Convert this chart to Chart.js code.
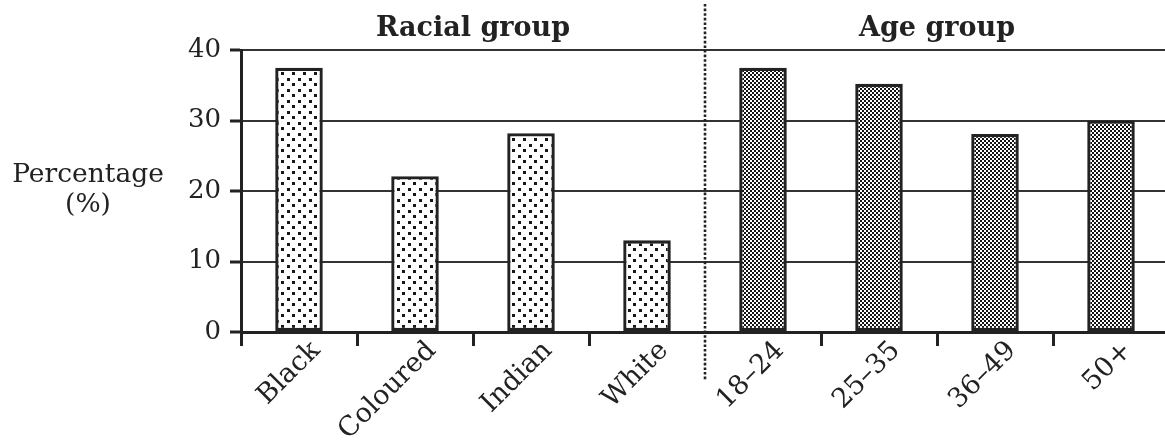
<!DOCTYPE html>
<html>
<head>
<meta charset="utf-8">
<script src="https://cdn.jsdelivr.net/npm/chart.js@4"></script>
<style>
html,body{margin:0;padding:0;background:#fff;overflow:hidden;}
#wrap{position:relative;width:1169px;height:441px;}
</style>
</head>
<body>
<div id="wrap"><canvas id="c"></canvas></div>
<script>
// ---- data ----
const categories = ['Black', 'Coloured', 'Indian', 'White', '18–24', '25–35', '36–49', '50+'];
const values = [37.5, 22.1, 28.2, 13.0, 37.5, 35.2, 28.1, 30.0];
const groupOf = [0, 0, 0, 0, 1, 1, 1, 1];
const groupTitles = ['Racial group', 'Age group'];
const yTicks = [0, 10, 20, 30, 40];
const yTitle = ['Percentage', '(%)'];

const FONT = '"DejaVu Serif", "Liberation Serif", serif';
const INK = '#222';

function dotPattern() {
  const c = document.createElement('canvas');
  c.width = 11; c.height = 11;
  const g = c.getContext('2d');
  g.fillStyle = '#fff'; g.fillRect(0, 0, 11, 11);
  g.fillStyle = '#161616';
  g.fillRect(1, 1, 3, 3);
  g.fillRect(6, 6, 3, 3);
  return g.createPattern(c, 'repeat');
}
function checkPattern() {
  const c = document.createElement('canvas');
  c.width = 4; c.height = 4;
  const g = c.getContext('2d');
  g.fillStyle = '#fff'; g.fillRect(0, 0, 4, 4);
  g.fillStyle = '#141414';
  g.fillRect(0, 0, 2, 2); g.fillRect(2, 2, 2, 2);
  return g.createPattern(c, 'repeat');
}
const patterns = [dotPattern(), checkPattern()];

const overlay = {
  id: 'overlay',
  afterDraw(chart) {
    const ctx = chart.ctx;
    const x = chart.scales.x;
    const firstAge = groupOf.indexOf(1);
    const step = x.getPixelForValue(1) - x.getPixelForValue(0);
    const divX = (x.getPixelForValue(firstAge - 1) + x.getPixelForValue(firstAge)) / 2;
    ctx.save();
    // divider between groups
    ctx.strokeStyle = INK;
    ctx.lineWidth = 2.6;
    ctx.setLineDash([2.6, 2]);
    ctx.beginPath();
    ctx.moveTo(divX, 4);
    ctx.lineTo(divX, 380);
    ctx.stroke();
    ctx.setLineDash([]);
    // group titles
    ctx.fillStyle = INK;
    ctx.font = 'bold 27px ' + FONT;
    ctx.textAlign = 'center';
    ctx.textBaseline = 'alphabetic';
    groupTitles.forEach((t, gi) => {
      const idx = groupOf.map((g, i) => g === gi ? i : -1).filter(i => i >= 0);
      const lo = x.getPixelForValue(idx[0]) - step / 2;
      const hi = x.getPixelForValue(idx[idx.length - 1]) + step / 2;
      ctx.fillText(t, (lo + hi) / 2, 36);
    });
    // y title
    ctx.font = '26.5px ' + FONT;
    ctx.fillText(yTitle[0], 88, 182);
    ctx.fillText(yTitle[1], 88, 212);
    ctx.restore();
  }
};

new Chart(document.getElementById('c'), {
  type: 'bar',
  data: {
    labels: categories,
    datasets: [{
      data: values,
      backgroundColor: groupOf.map(g => patterns[g]),
      borderColor: INK,
      borderWidth: 3.3,
      borderSkipped: false,
      barPercentage: 0.41,
      categoryPercentage: 1
    }]
  },
  options: {
    responsive: true,
    maintainAspectRatio: false,
    animation: false,
    layout: { padding: { top: 50, left: 0, right: 0, bottom: 0 } },
    plugins: { legend: { display: false }, tooltip: { enabled: false } },
    scales: {
      x: {
        grid: {
          offset: true,
          drawOnChartArea: false,
          drawTicks: true,
          tickLength: 14,
          tickWidth: 3,
          color: (ctx) => ctx.index === groupOf.indexOf(1) ? 'rgba(0,0,0,0)' : INK
        },
        border: { color: INK, width: 3 },
        ticks: {
          color: INK,
          font: { family: FONT, size: 27 },
          minRotation: 45, maxRotation: 45,
          padding: -11,
          labelOffset: 17
        },
        afterFit(s) { s.height = 109; }
      },
      y: {
        min: 0, max: 40,
        afterBuildTicks(s) { s.ticks = yTicks.map(v => ({ value: v })); },
        grid: {
          color: '#333',
          lineWidth: 2,
          tickLength: 11,
          tickWidth: 3,
          tickColor: INK
        },
        border: { color: INK, width: 3 },
        ticks: {
          color: INK,
          font: { family: FONT, size: 26 },
          padding: 9
        },
        afterFit(s) { s.width = 241; }
      }
    }
  },
  plugins: [overlay]
});
</script>
</body>
</html>
